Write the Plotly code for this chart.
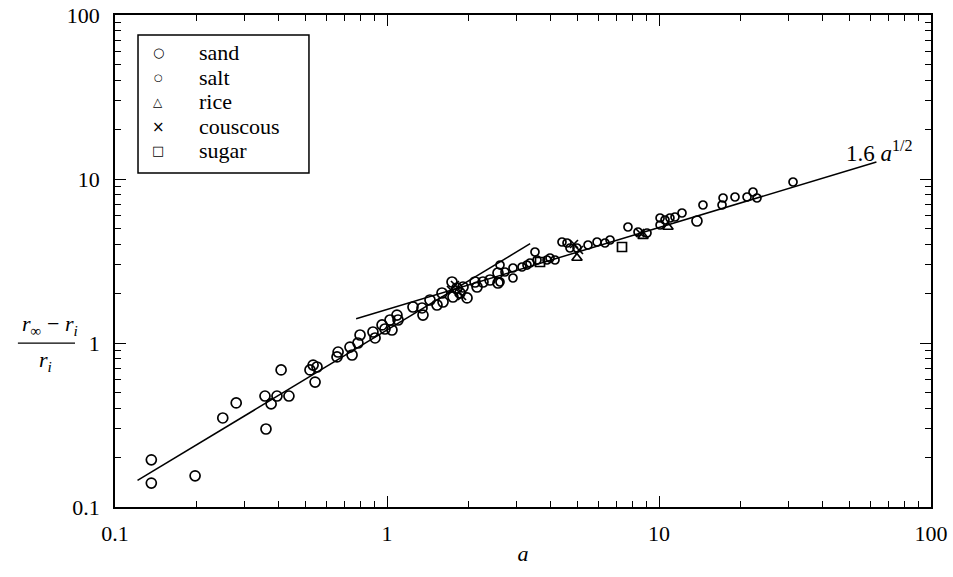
import plotly.graph_objects as go

# ---- data (a, (r_inf - r_i)/r_i) ----
sand_a = [0.136, 0.136, 0.197, 0.249, 0.279, 0.359, 0.356, 0.375, 0.394, 0.436, 0.408,
          0.521, 0.535, 0.553, 0.544, 0.655, 0.661, 0.731, 0.744, 0.782, 0.796,
          0.888, 0.904, 0.959, 0.983, 1.026, 1.043, 1.088, 1.098, 1.246, 1.345,
          1.356, 1.439, 1.527, 1.593, 1.607, 1.734, 1.809, 1.903, 1.748, 1.855,
          1.969, 2.107, 2.143, 2.254, 2.392, 2.559, 2.559, 13.79]
sand_y = [0.194, 0.140, 0.155, 0.349, 0.431, 0.299, 0.475, 0.425, 0.475, 0.475, 0.685,
          0.685, 0.734, 0.714, 0.578, 0.822, 0.881, 0.945, 0.845, 1.0, 1.119,
          1.167, 1.073, 1.288, 1.217, 1.381, 1.200, 1.481, 1.381, 1.658, 1.635,
          1.481, 1.829, 1.705, 2.018, 1.778, 2.355, 2.165, 2.195, 1.908, 2.018,
          1.882, 2.355, 2.195, 2.355, 2.422, 2.672, 2.322, 5.545]

salt_a = [2.603, 2.603, 2.715, 2.905, 2.905, 3.135, 3.271, 3.50, 3.56, 3.355, 3.875,
          3.975, 4.147, 4.399, 4.59, 4.707, 4.994, 5.483, 5.918, 6.331, 6.606,
          7.69, 8.373, 9.034, 10.09, 10.52, 10.97, 11.45, 12.15, 10.09, 14.51,
          17.05, 17.2, 19.03, 21.07, 22.16, 22.92, 31.1]
salt_y = [2.988, 2.355, 2.71, 2.491, 2.866, 2.906, 2.988, 3.588, 3.207, 3.075, 3.207,
          3.298, 3.207, 4.13, 4.072, 3.795, 3.795, 3.959, 4.13, 4.072, 4.246,
          5.098, 4.751, 4.685, 5.783, 5.623, 5.783, 5.864, 6.202, 5.243, 6.94,
          6.94, 7.658, 7.767, 7.767, 8.331, 7.658, 9.588]

rice_a = [4.994, 10.79, 8.737]
rice_y = [3.298, 5.098, 4.49]

couscous_a = [1.778, 1.840, 1.887, 1.719, 4.869, 5.08, 8.517]
couscous_y = [2.258, 2.046, 1.935, 2.105, 4.015, 3.69, 4.685]

sugar_a = [7.311, 3.652]
sugar_y = [3.849, 3.118]

# fitted laws
lin_coef = 1.2          # y = 1.2 a (small-a regime)
lin_range = [0.121, 3.36]
sqrt_coef = 1.6         # y = 1.6 a^(1/2)
sqrt_range = [0.77, 63.0]

x_ticks = [0.1, 1, 10, 100]
x_ticktext = ["0.1", "1", "10", "100"]
y_ticks = [0.1, 1, 10, 100]
y_ticktext = ["0.1", "1", "10", "100"]
minor_ticks = [k * 10.0 ** d for d in (-1, 0, 1) for k in range(2, 10)]

legend_names = ["sand", "salt", "rice", "couscous", "sugar"]
legend_keys = ["○", "○", "△", "×", "□"]
legend_key_sizes = [13, 10, 12, 15, 13]

FONT = "Liberation Serif"

fig = go.Figure()

fig.add_trace(go.Scatter(x=lin_range, y=[lin_coef * a for a in lin_range], mode="lines",
                         line=dict(color="black", width=1.5), showlegend=False, hoverinfo="skip"))
fig.add_trace(go.Scatter(x=sqrt_range, y=[sqrt_coef * a ** 0.5 for a in sqrt_range], mode="lines",
                         line=dict(color="black", width=1.5), showlegend=False, hoverinfo="skip"))

series = [
    ("sand", sand_a, sand_y, "circle-open", 10),
    ("salt", salt_a, salt_y, "circle-open", 8),
    ("rice", rice_a, rice_y, "triangle-up-open", 9),
    ("couscous", couscous_a, couscous_y, "x-thin-open", 8),
    ("sugar", sugar_a, sugar_y, "square-open", 9),
]
for name, xs, ys, sym, sz in series:
    fig.add_trace(go.Scatter(x=xs, y=ys, mode="markers", name=name, showlegend=False,
                             marker=dict(symbol=sym, size=sz, color="black",
                                         line=dict(width=1.7, color="black"))))

axis_common = dict(
    type="log", showgrid=False, zeroline=False, showline=True, linecolor="black", linewidth=1.5,
    mirror="ticks", ticks="inside", ticklen=11, tickwidth=1.3, tickcolor="black",
    minor=dict(tickmode="array", tickvals=minor_ticks, ticks="inside", ticklen=6, tickwidth=1,
               tickcolor="black", showgrid=False),
    tickfont=dict(family=FONT, size=22, color="black"),
    automargin=False,
)

fig.update_xaxes(range=[-1, 2], tickmode="array", tickvals=x_ticks, ticktext=x_ticktext, ticklabelstandoff=6,
                 title=dict(text="<i>a</i>", font=dict(family=FONT, size=22, color="black"), standoff=0),
                 **axis_common)
fig.update_yaxes(range=[-1, 2], tickmode="array", tickvals=y_ticks, ticktext=y_ticktext, ticklabelstandoff=9,
                 **axis_common)

# law label
fig.add_annotation(x=1.81, y=1.165, xref="x", yref="y", text="1.6 <i>a</i><sup>1/2</sup>",
                   showarrow=False, font=dict(family=FONT, size=23, color="black"),
                   xanchor="center", yanchor="middle")

# y-axis title as a fraction
fig.add_annotation(x=-0.1164, y=0.337, xref="paper", yref="paper", xanchor="left", yanchor="bottom",
                   text="<i>r</i><sub>∞</sub> − <i>r<sub>i</sub></i>", showarrow=False,
                   font=dict(family=FONT, size=22, color="black"))
fig.add_annotation(x=-0.0956, y=0.329, xref="paper", yref="paper", xanchor="left", yanchor="top",
                   text="<i>r<sub>i</sub></i>", showarrow=False,
                   font=dict(family=FONT, size=22, color="black"))
fig.add_shape(type="line", xref="paper", yref="paper", x0=-0.119, x1=-0.049, y0=0.333, y1=0.333,
              line=dict(color="black", width=1.3))

# legend box (drawn as layout)
lg_x0, lg_x1, lg_y0, lg_y1 = 0.0282, 0.2377, 0.6789, 0.9593
lg_key_x, lg_text_x = 0.0527, 0.1000
lg_row_y = [0.9228, 0.8720, 0.8232, 0.7724, 0.7256]
fig.add_shape(type="rect", xref="paper", yref="paper", x0=lg_x0, x1=lg_x1, y0=lg_y0, y1=lg_y1,
              line=dict(color="black", width=1.5), fillcolor="white", layer="above")
for name, key, ksz, yy in zip(legend_names, legend_keys, legend_key_sizes, lg_row_y):
    fig.add_annotation(x=lg_key_x, y=yy, xref="paper", yref="paper", text=key, showarrow=False,
                       xanchor="center", yanchor="middle",
                       font=dict(family="DejaVu Sans", size=ksz, color="black"))
    fig.add_annotation(x=lg_text_x, y=yy, xref="paper", yref="paper", text=name, showarrow=False,
                       xanchor="left", yanchor="middle",
                       font=dict(family=FONT, size=22, color="black"))

fig.update_layout(
    width=953, height=577,
    margin=dict(l=115, r=22, t=15, b=70),
    plot_bgcolor="white", paper_bgcolor="white",
    font=dict(family=FONT, size=22, color="black"),
    showlegend=False,
)

fig.write_html("out.html", config={"displayModeBar": False},
               post_script="document.body.style.margin='0';")
